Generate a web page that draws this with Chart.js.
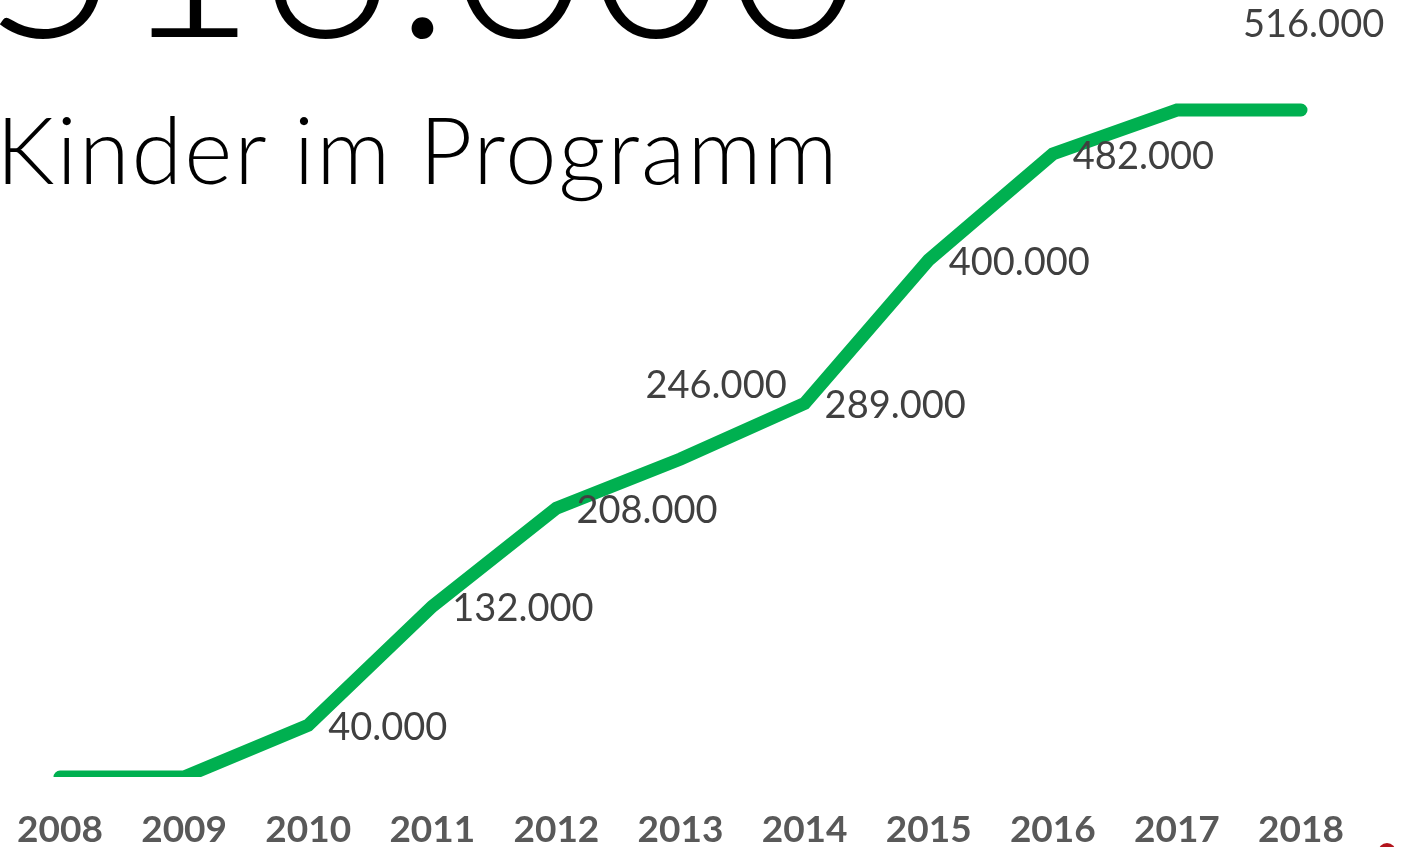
<!DOCTYPE html>
<html>
<head>
<meta charset="utf-8">
<script src="https://cdn.jsdelivr.net/npm/chart.js@4"></script>
<style>
  html, body { margin: 0; padding: 0; background: #fff; overflow: hidden; }
  #wrap { position: relative; width: 1405px; height: 847px; overflow: hidden; }
  #kidsChart { position: absolute; left: 0; top: 0; }
  .big { position: absolute; left: -17px; top: -195px; font: 300 235px/1.2 Lato, sans-serif; color: #000; white-space: nowrap; letter-spacing: 1px; }
  .sub { position: absolute; left: -4px; top: 94px; font: 300 92px/1.2 Lato, sans-serif; color: #000; white-space: nowrap; letter-spacing: 2px; }
  .dot { position: absolute; left: 1378px; top: 843px; width: 18px; height: 18px; border-radius: 50%; background: #b3141c; }
</style>
</head>
<body>
<div id="wrap">
  <canvas id="kidsChart" width="1405" height="847"></canvas>
  <div class="big">516.000</div>
  <div class="sub">Kinder im Programm</div>
  <div class="dot"></div>
</div>
<script>
const years = ['2008', '2009', '2010', '2011', '2012', '2013', '2014', '2015', '2016', '2017', '2018'];
const kids = [0, 0, 40000, 132000, 208000, 246000, 289000, 400000, 482000, 516000, 516000];

// where each value label sits relative to its point: [dx, dy] (left aligned, baseline)
const labelOffsets = {
  2: [20, 15],
  3: [20, 15],
  4: [20, 15],
  5: [-35, -61],
  6: [20, 15],
  7: [20, 15],
  8: [20, 15],
  10: [-58, -73]
};

function fmt(v) {
  return String(v).replace(/\B(?=(\d{3})+(?!\d))/g, '.');
}

const valueLabels = {
  id: 'valueLabels',
  afterDatasetsDraw(chart) {
    const ctx = chart.ctx;
    const pts = chart.getDatasetMeta(0).data;
    ctx.save();
    ctx.font = '38px Lato, sans-serif';
    ctx.fillStyle = '#404040';
    ctx.textAlign = 'left';
    ctx.textBaseline = 'alphabetic';
    Object.keys(labelOffsets).forEach(i => {
      const p = pts[i];
      const off = labelOffsets[i];
      ctx.fillText(fmt(kids[i]), p.x + off[0], p.y + off[1]);
    });
    ctx.restore();
  }
};

const ctx = document.getElementById('kidsChart');

new Chart(ctx, {
  type: 'line',
  data: {
    labels: years,
    datasets: [{
      data: kids,
      borderColor: '#00b050',
      borderWidth: 13,
      borderCapStyle: 'round',
      borderJoinStyle: 'miter',
      tension: 0,
      pointRadius: 0,
      fill: false,
      clip: { left: 10, right: 10, top: 10, bottom: 0 }
    }]
  },
  plugins: [valueLabels],
  options: {
    responsive: false,
    animation: false,
    layout: {
      padding: { left: 60, right: 104, top: 110, bottom: 0 }
    },
    plugins: {
      legend: { display: false },
      tooltip: { enabled: false }
    },
    scales: {
      x: {
        grid: { display: false, drawTicks: false },
        border: { display: false },
        ticks: {
          color: '#595959',
          padding: 3,
          maxRotation: 0,
          font: { family: 'Lato', size: 37, weight: 'bold', lineHeight: 2.7 }
        },
        afterFit(scale) { scale.height = 70; }
      },
      y: {
        display: false,
        min: 0,
        max: 516000
      }
    }
  }
});
</script>
</body>
</html>
